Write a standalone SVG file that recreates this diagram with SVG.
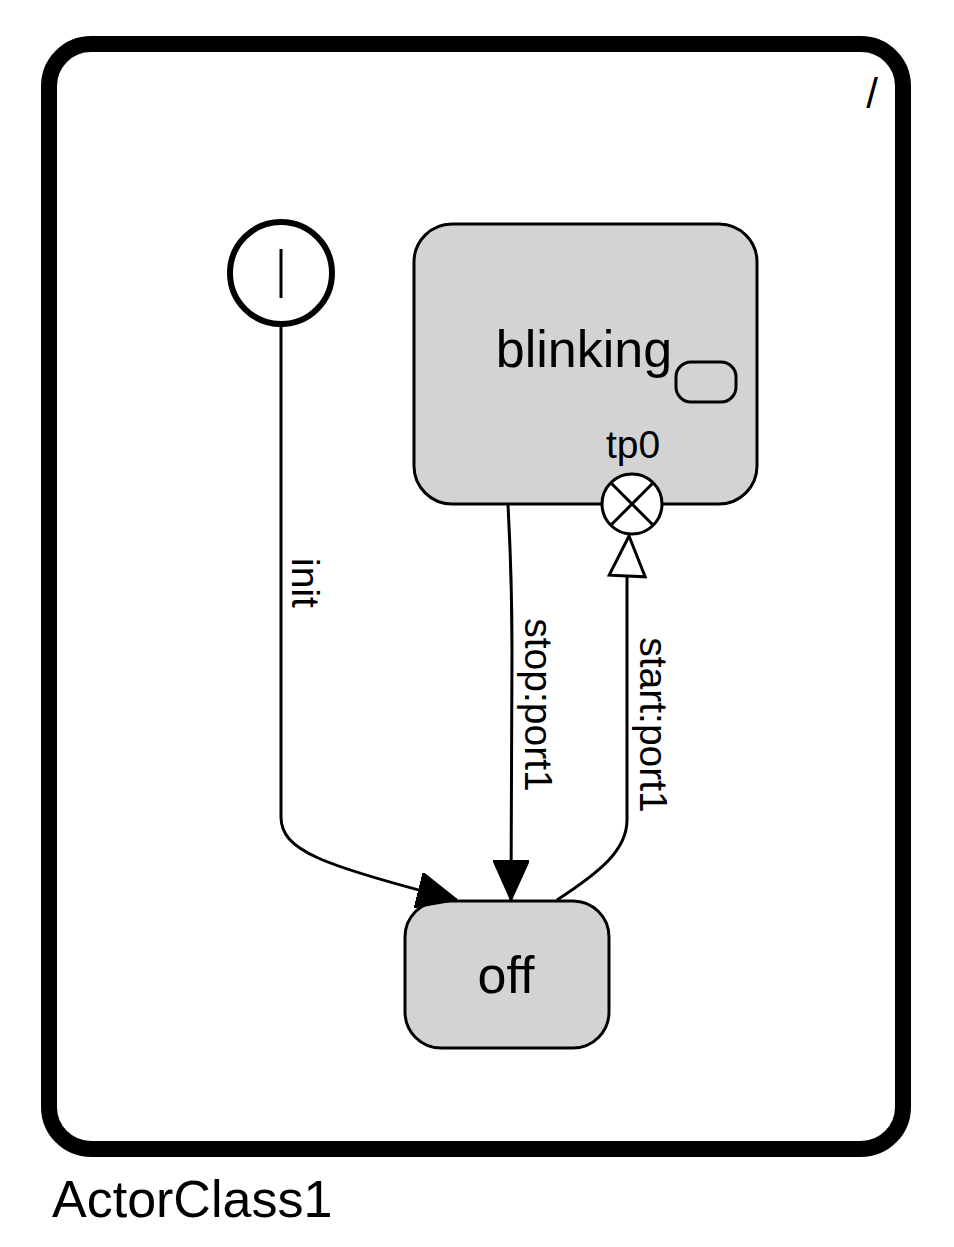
<svg xmlns="http://www.w3.org/2000/svg" width="954" height="1247" viewBox="0 0 954 1247">
<style>
text{font-family:"Liberation Sans",Arial,sans-serif;fill:#000}
.state{fill:#d3d3d3;stroke:#000;stroke-width:3}
.edge{fill:none;stroke:#000;stroke-width:3}
.big{font-size:52px}
.lbl{font-size:39px}
</style>
<defs>
<marker id="arrow" markerUnits="userSpaceOnUse" viewBox="0 0 40 36" refX="40" refY="18" markerWidth="40" markerHeight="36" orient="auto">
<path d="M0,0 L40,18 L0,36 Z" fill="#000" stroke="#000" stroke-width="2"/>
</marker>
<marker id="open" markerUnits="userSpaceOnUse" viewBox="-2 -2 44 40" refX="40" refY="18" markerWidth="44" markerHeight="40" orient="auto">
<path d="M0,0 L40,18 L0,36 Z" fill="#fff" stroke="#000" stroke-width="3"/>
</marker>
</defs>
<g id="actor">
<rect x="49" y="44" width="854" height="1105" rx="42" fill="#fff" stroke="#000" stroke-width="16"/>
<text x="872" y="108" style="font-size:42px" text-anchor="middle">/</text>
<text x="52" y="1217" class="big">ActorClass1</text>
</g>
<g id="init">
<circle cx="281" cy="273" r="51" fill="#fff" stroke="#000" stroke-width="6"/>
<line x1="281" y1="249" x2="281" y2="298" stroke="#000" stroke-width="3"/>
</g>
<g id="blinking">
<rect x="414" y="224" width="343" height="280" rx="38" class="state"/>
<text x="584" y="367" class="big" text-anchor="middle">blinking</text>
<rect x="676" y="362" width="60" height="40" rx="15" fill="none" stroke="#000" stroke-width="3"/>
<text x="633" y="458" class="lbl" text-anchor="middle">tp0</text>
</g>
<g id="tp0">
<circle cx="632" cy="504" r="30" fill="#fff" stroke="#000" stroke-width="3"/>
<line x1="611" y1="483" x2="653" y2="525" stroke="#000" stroke-width="3"/>
<line x1="653" y1="483" x2="611" y2="525" stroke="#000" stroke-width="3"/>
</g>
<g id="off">
<rect x="405" y="901" width="204" height="147" rx="36" class="state"/>
<text x="506" y="993" class="big" text-anchor="middle">off</text>
</g>
<g id="connectors">
<path class="edge" d="M281,325 L281,817 C281,850 320,865 457,900" marker-end="url(#arrow)"/>
<path class="edge" d="M508,505 C511,560 512,600 512,650 L511,900" marker-end="url(#arrow)"/>
<path class="edge" d="M557,900 C600,872 627,850 627,820 L627,580 L629,536" marker-end="url(#open)"/>
<text class="lbl" transform="translate(292,583) rotate(90)" text-anchor="middle">init</text>
<text class="lbl" transform="translate(525,705) rotate(90)" text-anchor="middle">stop:port1</text>
<text class="lbl" transform="translate(640,725) rotate(90)" text-anchor="middle">start:port1</text>
</g>
</svg>
